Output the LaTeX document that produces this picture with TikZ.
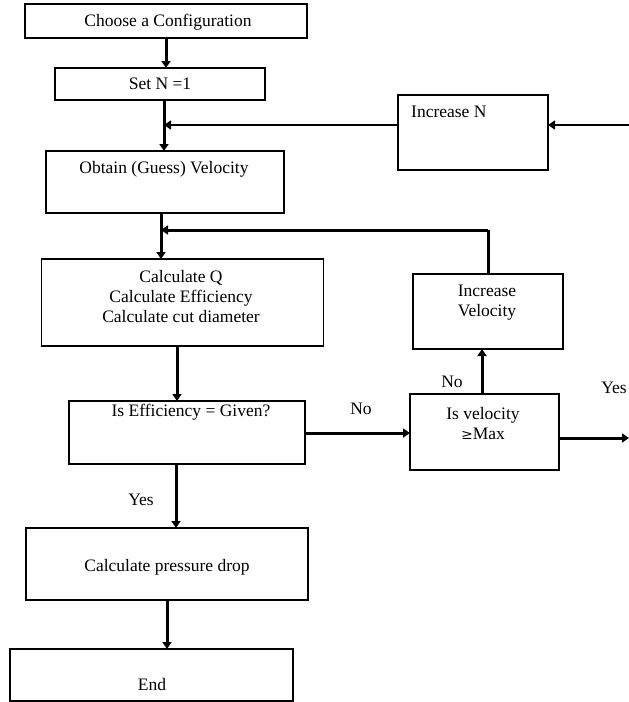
\documentclass[tikz,border=0pt]{standalone}
\usepackage{fontspec}
\setmainfont{Liberation Serif}
\usetikzlibrary{arrows.meta}
\begin{document}
\begin{tikzpicture}[x=1pt,y=-1pt,
  box/.style={draw, line width=1.9pt, inner sep=0pt, outer sep=0pt},
  txt/.style={font=\fontsize{17.5}{20}\selectfont, inner sep=0pt, align=center},
  flow/.style={line width=3pt, -{Triangle[length=7pt,width=9pt]}},
  feed/.style={line width=1.5pt, -{Triangle[length=7pt,width=9pt]}},
  loopline/.style={line width=3pt},
]
\useasboundingbox (0,0) rectangle (629,702);

% process boxes
\node[box, minimum width=282pt, minimum height=34pt] (choose) at (166,21) {};
\node[txt] (choose-t) at (168,22) {Choose a Configuration};

\node[box, minimum width=210pt, minimum height=32pt] (setn) at (160,84) {};
\node[txt] (setn-t) at (160,84) {Set N =1};

\node[box, minimum width=238pt, minimum height=62pt] (obtain) at (165,182) {};
\node[txt] (obtain-t) at (164,169) {Obtain (Guess) Velocity};

\node[box, minimum width=282pt, minimum height=87pt] (calc) at (182.5,302.5) {};
\node[txt] (calc-t) at (181,297) {Calculate Q\\Calculate Efficiency\\Calculate cut diameter};

\node[box, minimum width=236pt, minimum height=63pt] (effq) at (187,432.5) {};
\node[txt] (effq-t) at (191,412) {Is Efficiency = Given?};

\node[box, minimum width=282pt, minimum height=72pt] (press) at (167,564) {};
\node[txt] (press-t) at (167,567) {Calculate pressure drop};

\node[box, minimum width=283pt, minimum height=52pt] (end) at (151.5,675) {};
\node[txt] (end-t) at (152,685) {End};

\node[box, minimum width=150pt, minimum height=75pt] (incn) at (473,132.5) {};
\node[txt, anchor=west] (incn-t) at (411,112) {Increase N};

\node[box, minimum width=150pt, minimum height=75pt] (incv) at (488,311.5) {};
\node[txt] (incv-t) at (487,303) {Increase\\Velocity};

\node[box, minimum width=149pt, minimum height=76pt] (velq) at (484.5,432) {};
\node[txt] (velq-t) at (483,424) {Is velocity\\{\fontspec{DejaVu Serif}\fontsize{14}{20}\selectfont ≥}Max};

% labels on the branches
\node[txt] (no1) at (361,409) {No};
\node[txt] (no2) at (452,382) {No};
\node[txt] (yes1) at (141,500) {Yes};
\node[txt] (yes2) at (614,388) {Yes};

% free ends at the right margin
\coordinate (inN) at (629,125);
\coordinate (outYes) at (629,438);

% main flow
\draw[flow] (choose.south) -- (choose.south |- setn.north);
\draw[flow] ([xshift=4pt]setn.south) -- ([xshift=4pt]setn.south |- obtain.north);
\draw[flow] ([xshift=-4pt]obtain.south) -- ([xshift=-4pt]obtain.south |- calc.north);
\draw[flow] ([xshift=-5.5pt]calc.south) -- ([xshift=-5.5pt]calc.south |- effq.north);
\draw[flow] ([xshift=-11pt]effq.south) -- ([xshift=-11pt]effq.south |- press.north);
\draw[flow] (press.south) -- (press.south |- end.north);
\draw[flow] (effq.east |- 0,433) -- (velq.west |- 0,433);
\draw[flow] (velq.north -| 482,0) -- (incv.south -| 482,0);
\draw[flow] (velq.east |- outYes) -- (outYes);

% velocity loop back above the calculation box
\draw[loopline] (incv.north) -- (incv.north |- 0,230);
\draw[flow] (incv.north |- 0,230) -- ([xshift=-4pt]obtain.south |- 0,230);

% number-of-units loop
\draw[feed] (inN) -- (incn.east |- inN);
\draw[feed] (incn.west |- inN) -- ([xshift=4pt]setn.south |- inN);
\end{tikzpicture}
\end{document}
